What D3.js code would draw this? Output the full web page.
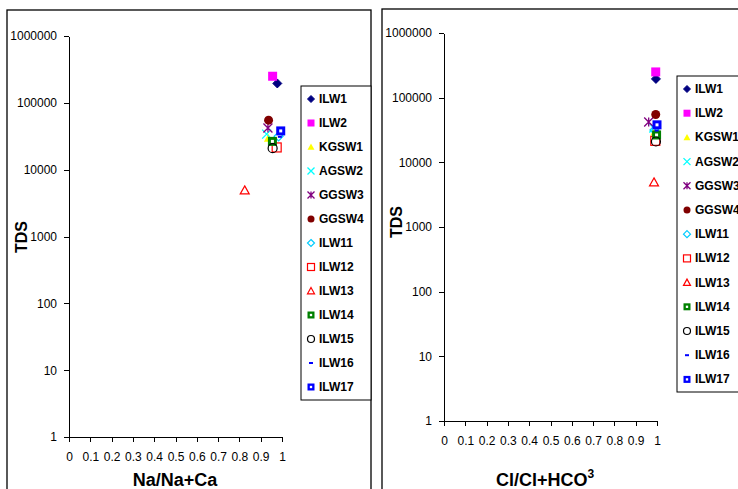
<!DOCTYPE html>
<html>
<head>
<meta charset="utf-8">
<script src="https://cdn.jsdelivr.net/npm/d3@7"></script>
<style>
  body { margin: 0; background: #fff; }
  svg { display: block; font-family: "Liberation Sans", Arial, sans-serif; }
  .axis path, .axis line { stroke: #000; shape-rendering: crispEdges; }
  .axis text { font-size: 12px; fill: #000; }
  .title { font-size: 16px; font-weight: bold; }
  .xtitle { font-size: 18px; font-weight: bold; }
  .legend text { font-size: 12px; font-weight: bold; }
</style>
</head>
<body>
<script>
// samples, in legend order
var samples = ["ILW1", "ILW2", "KGSW1", "AGSW2", "GGSW3", "GGSW4", "ILW11",
               "ILW12", "ILW13", "ILW14", "ILW15", "ILW16", "ILW17"];
// total dissolved solids
var tds = [195000, 250000, 29500, 34000, 42000, 55000, 31500,
           21500, 4900, 26500, 21000, 31000, 38000];
// Na/(Na+Ca)
var naRatio = [0.978, 0.956, 0.936, 0.928, 0.934, 0.937, 0.984,
               0.975, 0.825, 0.955, 0.956, 0.99, 0.994];
// Cl/(Cl+HCO3)
var clRatio = [0.995, 0.994, 0.99, 0.985, 0.961, 0.994, 0.988,
               0.992, 0.986, 0.998, 0.995, 0.998, 1.0];
var yTicks = [1, 10, 100, 1000, 10000, 100000, 1000000];
var xTicks = [0, 0.1, 0.2, 0.3, 0.4, 0.5, 0.6, 0.7, 0.8, 0.9, 1];

// marker look per sample
var shapes = ["diamond", "square", "triangle", "x", "star", "dot", "odiamond",
              "osquare", "otriangle", "dsquare", "ocircle", "dash", "dsquare"];
var colors = ["#000080", "#ff00ff", "#ffff00", "#00ffff", "#800080", "#800000", "#00ccff",
              "#ff0000", "#ff0000", "#008000", "#000000", "#0000ff", "#0000ff"];

var svg = d3.select("body").append("svg")
    .attr("width", 738)
    .attr("height", 489);

function marker(g, shape, color, s) {
  if (shape == "diamond" || shape == "odiamond") {
    g.append("path")
      .attr("d", "M0," + (-s) + "L" + s + ",0L0," + s + "L" + (-s) + ",0Z")
      .attr("fill", shape == "diamond" ? color : "none")
      .attr("stroke", color).attr("stroke-width", shape == "diamond" ? 1 : 1.2);
  } else if (shape == "square" || shape == "osquare") {
    g.append("rect").attr("x", -s).attr("y", -s).attr("width", 2 * s).attr("height", 2 * s)
      .attr("fill", shape == "square" ? color : "none")
      .attr("stroke", color).attr("stroke-width", shape == "square" ? 0 : 1.2);
  } else if (shape == "dsquare") {
    g.append("rect").attr("x", -s).attr("y", -s).attr("width", 2 * s).attr("height", 2 * s)
      .attr("fill", color);
    g.append("rect").attr("x", -s / 3).attr("y", -s / 3).attr("width", 2 * s / 3).attr("height", 2 * s / 3)
      .attr("fill", "#fff");
  } else if (shape == "triangle" || shape == "otriangle") {
    g.append("path")
      .attr("d", "M0," + (-s) + "L" + s + "," + (s * 0.8) + "L" + (-s) + "," + (s * 0.8) + "Z")
      .attr("fill", shape == "triangle" ? color : "none")
      .attr("stroke", color).attr("stroke-width", shape == "triangle" ? 0 : 1.2);
  } else if (shape == "x" || shape == "star") {
    var d = "M" + (-s) + "," + (-s) + "L" + s + "," + s + "M" + (-s) + "," + s + "L" + s + "," + (-s);
    if (shape == "star") d += "M0," + (-s) + "L0," + s;
    g.append("path").attr("d", d).attr("fill", "none")
      .attr("stroke", color).attr("stroke-width", 1.3);
  } else if (shape == "dot" || shape == "ocircle") {
    g.append("circle").attr("r", s)
      .attr("fill", shape == "dot" ? color : "none")
      .attr("stroke", color).attr("stroke-width", shape == "dot" ? 0 : 1.2);
  } else if (shape == "dash") {
    g.append("path").attr("d", "M-2,0L2,0")
      .attr("stroke", color).attr("stroke-width", 2);
  }
}

function drawPanel(p) {
  // outer frame
  svg.append("rect")
    .attr("x", p.frame[0]).attr("y", p.frame[1])
    .attr("width", p.frame[2]).attr("height", 600)
    .attr("fill", "#fff").attr("stroke", "#000").attr("stroke-width", 1.3);

  var x = d3.scaleLinear().domain([0, 1]).range([p.left, p.right]);
  var y = d3.scaleLog().domain([1, 1000000]).range([p.bottom, p.top]);

  svg.append("g").attr("class", "axis")
      .attr("transform", "translate(0," + p.bottom + ")")
      .call(d3.axisBottom(x).tickValues(xTicks).tickSize(5).tickSizeOuter(0)
        .tickPadding(10).tickFormat(d3.format("")));

  svg.append("g").attr("class", "axis")
      .attr("transform", "translate(" + p.left + ",0)")
      .call(d3.axisLeft(y).tickValues(yTicks).tickSize(5).tickSizeOuter(0)
        .tickPadding(7).tickFormat(d3.format("d")));

  // y title
  svg.append("text").attr("class", "title")
      .attr("transform", "translate(" + p.yTitle[0] + "," + p.yTitle[1] + ") rotate(-90)")
      .attr("text-anchor", "middle")
      .text("TDS");

  // x title
  var xt = svg.append("text").attr("class", "xtitle")
      .attr("x", p.xTitle[0]).attr("y", p.xTitle[1])
      .attr("text-anchor", "middle");
  xt.append("tspan").text(p.xLabel);
  if (p.sup) xt.append("tspan").attr("dy", -8).style("font-size", "12px").text(p.sup);

  // points
  samples.forEach(function(s, i) {
    var g = svg.append("g")
      .attr("transform", "translate(" + x(p.values[i]) + "," + y(tds[i]) + ")");
    marker(g, shapes[i], colors[i], 4.5);
  });

  // legend
  var lg = svg.append("g").attr("class", "legend");
  lg.append("rect")
    .attr("x", p.legend[0]).attr("y", p.legend[1])
    .attr("width", p.legend[4]).attr("height", p.legend[2])
    .attr("fill", "#fff").attr("stroke", "#000").attr("stroke-width", 1);
  samples.forEach(function(s, i) {
    var yy = p.legend[1] + 13 + i * p.legend[3];
    var g = lg.append("g").attr("transform", "translate(" + (p.legend[0] + 10) + "," + yy + ")");
    marker(g, shapes[i], colors[i], 3.5);
    lg.append("text").attr("x", p.legend[0] + 18).attr("y", yy + 4).text(s);
  });
}

drawPanel({
  frame: [7, 10, 364],
  left: 69, right: 282, top: 36, bottom: 437,
  yTitle: [27, 237], xTitle: [175, 486], xLabel: "Na/Na+Ca",
  values: naRatio,
  legend: [301, 86, 314, 24, 70]
});

drawPanel({
  frame: [382, 9, 400],
  left: 444, right: 657, top: 33, bottom: 421,
  yTitle: [402, 222], xTitle: [545, 486], xLabel: "Cl/Cl+HCO", sup: "3",
  values: clRatio,
  legend: [677, 76, 316, 24.2, 90]
});
</script>
</body>
</html>
